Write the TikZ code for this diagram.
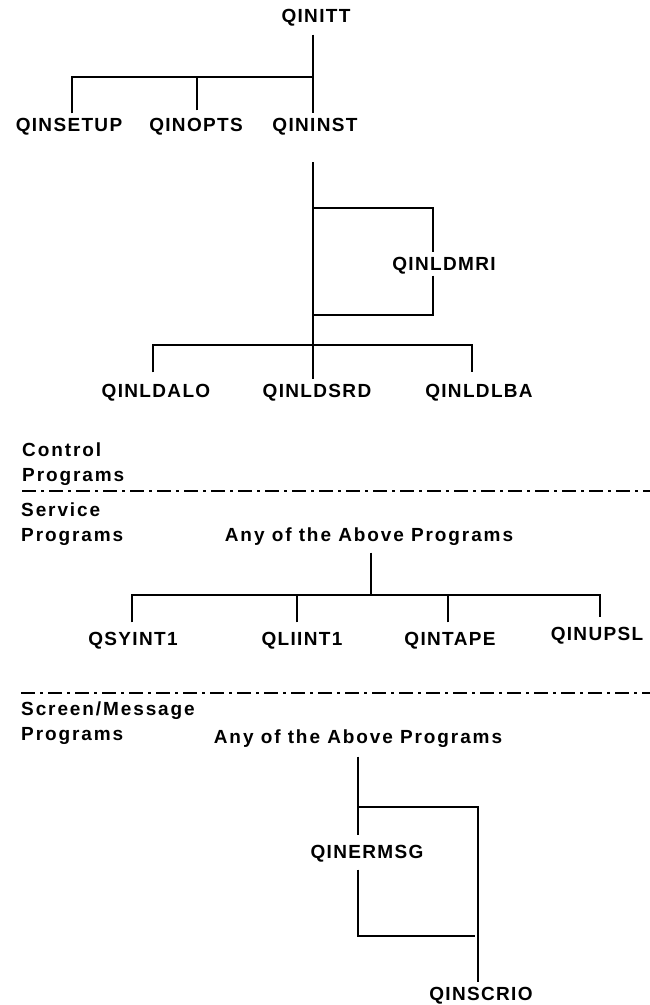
\documentclass[tikz,border=0pt]{standalone}
\usepackage{fontspec}
\setmainfont{Liberation Sans}[LetterSpace=7]
\begin{document}
\begin{tikzpicture}[x=1pt,y=-1pt,
  every node/.style={font=\bfseries\fontsize{19}{22}\selectfont,
    inner sep=5pt, text height=13pt, text depth=0pt},
  prog/.style={},
  wide/.style={font=\bfseries\fontsize{19}{22}\selectfont\addfontfeatures{LetterSpace=10}},
  caption/.style={wide, anchor=west, inner sep=0pt},
  link/.style={line width=1.6pt},
  divider/.style={line width=2.4pt, dash pattern=on 14pt off 5pt on 3pt off 5pt}]
\useasboundingbox (0,0) rectangle (650,1005);

% --- control programs -------------------------------------------------
\node[prog] (qinitt)   at (316,16)  {QINITT};
\node[prog] (qinsetup) at (69,125)  {QINSETUP};
\node[prog] (qinopts)  at (196,125) {QINOPTS};
\node[prog] (qininst)  at (315,125) {QININST};
\coordinate (j1) at (313,77);
\draw[link, shorten <=7pt] (qinitt.south -| j1) -- (qininst.north -| j1);
\draw[link] (qinsetup.north -| 72,0) |- (j1);
\draw[link, shorten <=3pt] (qinopts.north -| 197,0) -- (197,77);

\coordinate (c1) at (313,162);
\coordinate (b1) at (313,208);
\coordinate (b2) at (313,315);
\coordinate (b3) at (433,208);
\coordinate (b4) at (433,315);
\node[prog] (qinldmri) at (444,264) {QINLDMRI};
\draw[link] (b1) -- (b3) -- (b3 |- qinldmri.north);
\draw[link] (b3 |- qinldmri.south) -- (b4) -- (b2);

\node[prog] (qinldalo) at (156,391) {QINLDALO};
\node[prog] (qinldsrd) at (317,391) {QINLDSRD};
\node[prog] (qinldlba) at (479,391) {QINLDLBA};
\coordinate (j2) at (313,345);
\draw[link] (c1) -- (qinldsrd.north -| c1);
\draw[link, shorten <=7pt, shorten >=7pt]
  (qinldalo.north -| 153,0) |- (j2) -| (qinldlba.north -| 472,0);

% --- divider ---------------------------------------------------------
\node[caption] (ctl1) at (22,450) {Control};
\node[caption] (ctl2) at (22,475) {Programs};
\coordinate (d1a) at (22,491);
\coordinate (d1b) at (650,491);
\draw[divider] (d1a) -- (d1b);

% --- service programs ------------------------------------------------
\node[caption] (svc1) at (21,510) {Service};
\node[caption] (svc2) at (21,535) {Programs};
\node[wide] (any1) at (369,535) {Any of the Above Programs};
\coordinate (j3) at (371,595);
\node[prog] (qsyint1) at (133,639) {QSYINT1};
\node[prog] (qliint1) at (302,639) {QLIINT1};
\node[prog] (qintape) at (450,639) {QINTAPE};
\node[prog] (qinupsl) at (597,634) {QINUPSL};
\draw[link, shorten <=6pt] (any1.south -| j3) -- (j3);
\draw[link, shorten <=5pt, shorten >=5pt]
  (qsyint1.north -| 132,0) |- (j3) -| (qinupsl.north -| 600,0);
\draw[link, shorten <=5pt] (qliint1.north -| 297,0) -- (297,595);
\draw[link, shorten <=5pt] (qintape.north -| 448,0) -- (448,595);

% --- divider ---------------------------------------------------------
\coordinate (d2a) at (21,693);
\coordinate (d2b) at (650,693);
\draw[divider] (d2a) -- (d2b);

% --- screen/message programs -----------------------------------------
\node[caption] (scr1) at (21,709) {Screen/Message};
\node[caption] (scr2) at (21,734) {Programs};
\node[wide] (any2) at (358,737) {Any of the Above Programs};
\node[prog] (qinermsg) at (367,852) {QINERMSG};
\node[prog] (qinscrio) at (481,994) {QINSCRIO};
\coordinate (k1) at (358,807);
\coordinate (k2) at (478,807);
\coordinate (k3) at (358,936);
\coordinate (k4) at (475,936);
\draw[link, shorten <=8pt, shorten >=5pt] (any2.south -| k1) -- (qinermsg.north -| k1);
\draw[link] (k1) -- (k2) -- (qinscrio.north -| k2);
\draw[link, shorten <=6pt] (qinermsg.south -| k1) -- (k3) -- (k4);
\end{tikzpicture}
\end{document}
